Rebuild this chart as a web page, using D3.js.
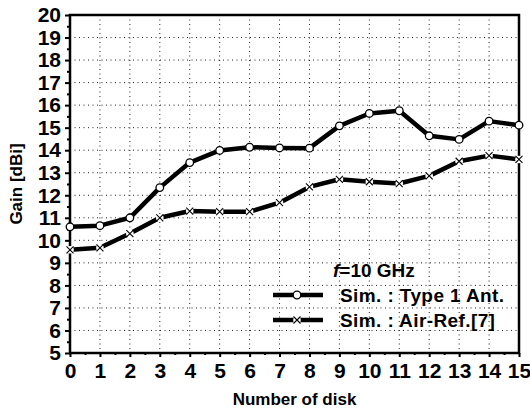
<!DOCTYPE html>
<html><head><meta charset="utf-8">
<script src="https://cdn.jsdelivr.net/npm/d3@7"></script>
<style>body{margin:0;background:#fff}svg{display:block}</style>
</head><body><svg id="c" width="530" height="417"></svg>
<script>
const disks = [0,1,2,3,4,5,6,7,8,9,10,11,12,13,14,15];
const type1 = [10.6,10.65,11.0,12.34,13.45,13.99,14.13,14.1,14.09,15.08,15.63,15.75,14.64,14.48,15.29,15.11];
const airRef = [9.58,9.67,10.3,11.0,11.3,11.27,11.27,11.67,12.37,12.71,12.6,12.52,12.86,13.51,13.76,13.59];
const yTicks = [5,6,7,8,9,10,11,12,13,14,15,16,17,18,19,20];
const seriesNames = ["Sim. : Type 1 Ant.", "Sim. : Air-Ref.[7]"];
const legendTitle = "f=10 GHz";

const svg = d3.select("#c");
const L=70,R=519,T=15,B=353;
const x = d3.scaleLinear().domain([0,15]).range([L,R]);
const y = d3.scaleLinear().domain([5,20]).range([B,T]);
const font = "'Liberation Sans Narrow','Arial Narrow','Liberation Sans',Arial,sans-serif";
const sans = "'Liberation Sans',Arial,sans-serif";

// grid
const g = svg.append("g");
g.selectAll("line.v").data(disks.slice(1,-1)).join("line")
 .attr("x1",d=>x(d)).attr("x2",d=>x(d)).attr("y1",T).attr("y2",B)
 .attr("stroke","#222").attr("stroke-width",1).attr("stroke-dasharray","1,3.5");
g.selectAll("line.h").data(yTicks.slice(1,-1)).join("line")
 .attr("x1",L).attr("x2",R).attr("y1",d=>y(d)).attr("y2",d=>y(d))
 .attr("stroke","#222").attr("stroke-width",1).attr("stroke-dasharray","1,3.5");

// frame
svg.append("rect").attr("x",L).attr("y",T).attr("width",R-L).attr("height",B-T)
 .attr("fill","none").attr("stroke","#000").attr("stroke-width",2.5);

// axes
const xAxis = d3.axisBottom(x).tickValues(disks).tickSize(4).tickPadding(6).tickFormat(d3.format("d"));
const xMinor = d3.axisBottom(x).tickValues(d3.range(0.5,15,1)).tickSize(2).tickFormat("");
const yAxis = d3.axisLeft(y).tickValues(yTicks).tickSize(5).tickPadding(4).tickFormat(d3.format("d"));
const yMinor = d3.axisLeft(y).tickValues(d3.range(5.5,20,1)).tickSize(3).tickFormat("");
function styleAxis(sel){
  sel.select(".domain").remove();
  sel.selectAll(".tick line").attr("stroke","#000").attr("stroke-width",2);
  sel.selectAll("text").attr("fill","#000").attr("font-family",font).attr("font-weight","bold").attr("font-size",21);
}
svg.append("g").attr("transform",`translate(0,${B})`).call(xAxis).call(styleAxis);
svg.append("g").attr("transform",`translate(0,${B})`).call(xMinor).call(styleAxis);
svg.append("g").attr("transform",`translate(${L},0)`).call(yAxis).call(styleAxis);
svg.append("g").attr("transform",`translate(${L},0)`).call(yMinor).call(styleAxis);

// titles
svg.append("text").attr("x",(L+R)/2).attr("y",405).attr("text-anchor","middle")
 .attr("font-family",sans).attr("font-weight","bold").attr("font-size",17).text("Number of disk");
svg.append("text").attr("transform",`translate(22,${(T+B)/2}) rotate(-90)`).attr("text-anchor","middle")
 .attr("font-family",sans).attr("font-weight","bold").attr("font-size",17).text("Gain [dBi]");

// lines
const line = d3.line().x((d,i)=>x(disks[i])).y(d=>y(d));
[airRef,type1].forEach(s=>{
  svg.append("path").datum(s).attr("d",line).attr("fill","none").attr("stroke","#000")
   .attr("stroke-width",4.5).attr("stroke-linejoin","round");
});
// markers
function circleMark(sel,cx,cy){
  sel.append("circle").attr("cx",cx).attr("cy",cy).attr("r",3.8).attr("fill","#fff").attr("stroke","#000").attr("stroke-width",1.3);
}
function crossMark(sel,cx,cy){
  sel.append("circle").attr("cx",cx).attr("cy",cy).attr("r",3.8).attr("fill","#fff");
  const s=3.5;
  sel.append("path").attr("d",`M${cx-s},${cy-s}L${cx+s},${cy+s}M${cx-s},${cy+s}L${cx+s},${cy-s}`)
   .attr("stroke","#000").attr("stroke-width",1.1);
}
const mk = svg.append("g");
type1.forEach((v,i)=>circleMark(mk,x(disks[i]),y(v)));
airRef.forEach((v,i)=>crossMark(mk,x(disks[i]),y(v)));

// legend
const lg = svg.append("g");
lg.append("text").attr("x",333).attr("y",277).attr("font-family",sans)
 .attr("font-weight","bold").attr("font-size",19)
 .html(`<tspan font-style="italic">f</tspan>=10 GHz`);
const rows=[295,320];
rows.forEach((ry,i)=>{
  lg.append("line").attr("x1",273).attr("x2",323).attr("y1",ry).attr("y2",ry).attr("stroke","#000").attr("stroke-width",4.5);
  if(i===0) circleMark(lg,297,ry); else crossMark(lg,297,ry);
  lg.append("text").attr("x",340).attr("y",ry+7).attr("font-family",sans)
   .attr("font-weight","bold").attr("font-size",19).attr("letter-spacing",0.4).text(seriesNames[i]);
});
</script></body></html>
